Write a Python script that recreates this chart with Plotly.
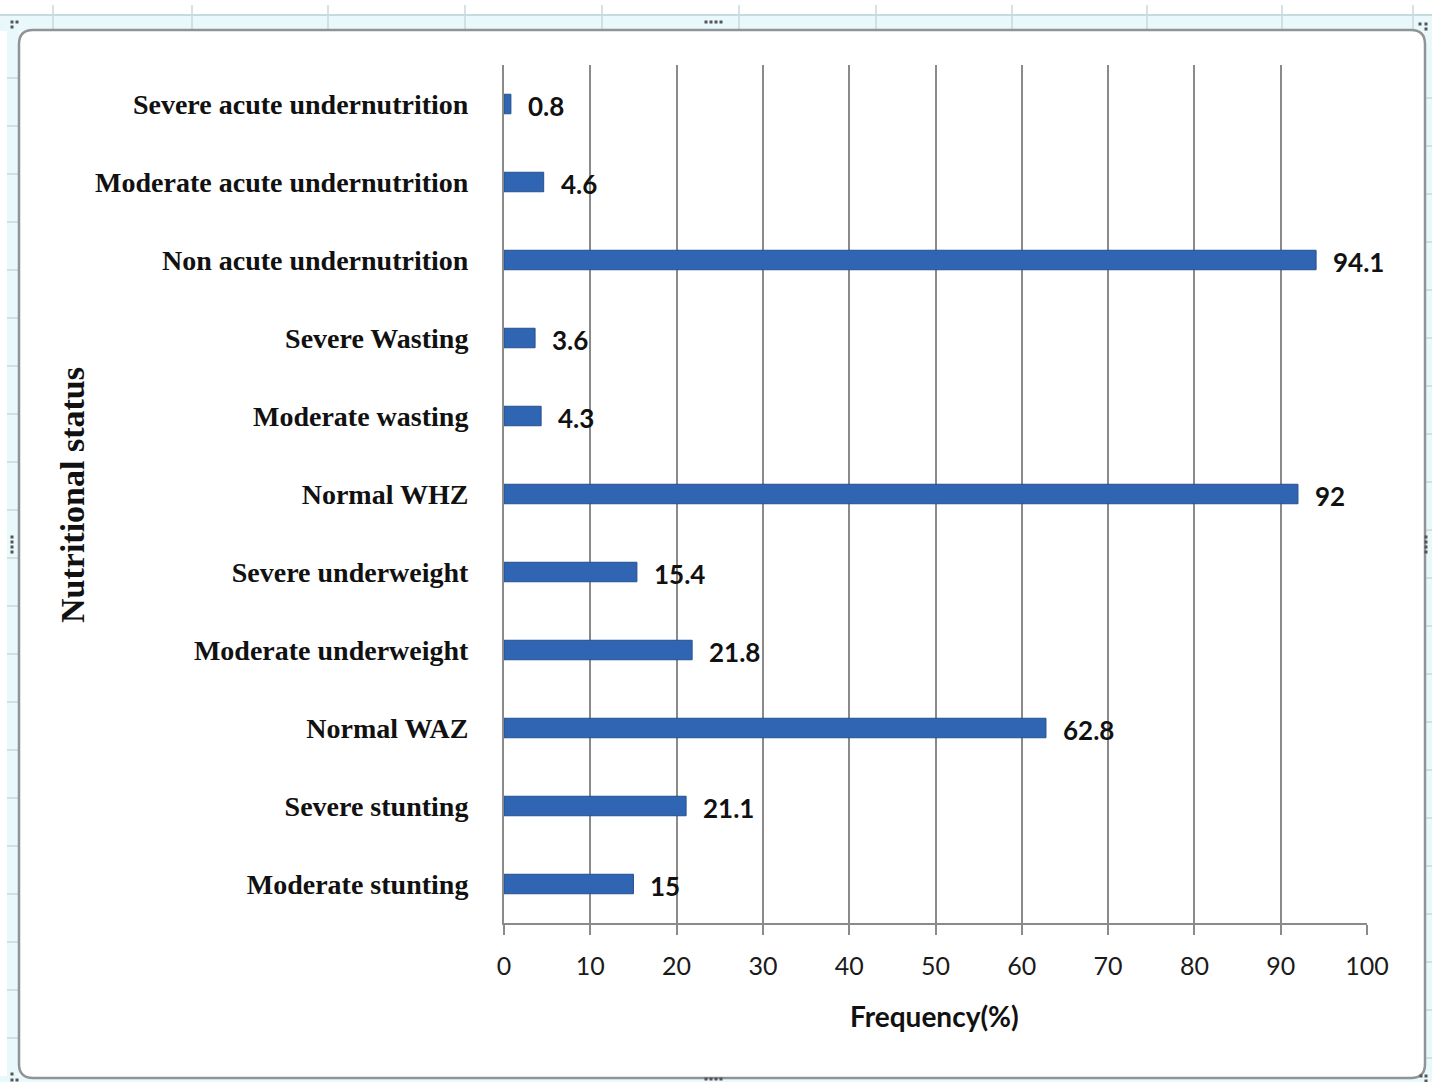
import plotly.graph_objects as go

# Nutritional status categories (top to bottom) and their frequencies in percent
categories = [
    "Severe acute undernutrition",
    "Moderate acute undernutrition",
    "Non acute undernutrition",
    "Severe Wasting",
    "Moderate wasting",
    "Normal WHZ",
    "Severe underweight",
    "Moderate underweight",
    "Normal WAZ",
    "Severe stunting",
    "Moderate stunting",
]
frequency = [0.8, 4.6, 94.1, 3.6, 4.3, 92, 15.4, 21.8, 62.8, 21.1, 15]
x_ticks = list(range(0, 101, 10))

W, H = 1432, 1082
L, R, T, B = 504, 1367, 65, 923  # plot area in pixels

def px(x):
    return (x - L) / (R - L)

def py(y):
    return (B - y) / (B - T)

BAR = "#2f65b2"
GRID = "#8a8a8a"

fig = go.Figure()
fig.add_trace(go.Bar(
    x=frequency,
    y=categories,
    orientation="h",
    width=0.25,
    marker=dict(color=BAR, line=dict(color="#24508f", width=1)),
    hoverinfo="x+y",
))

# value labels to the right of each bar
for cat, val in zip(categories, frequency):
    fig.add_annotation(
        x=val, y=cat, xref="x", yref="y",
        text=f"{val:g}", showarrow=False,
        xanchor="left", yanchor="middle", xshift=15, yshift=-2,
        font=dict(family="Lato", size=26, color="#111111", weight="bold"),
    )

shapes = []

def rect(x0, y0, x1, y1, fill, line=None, lw=0, layer="below"):
    shapes.append(dict(
        type="rect", xref="paper", yref="paper",
        x0=px(x0), x1=px(x1), y0=py(y0), y1=py(y1),
        fillcolor=fill, line=dict(color=line or fill, width=lw), layer=layer,
    ))

def seg(x0, y0, x1, y1, color, lw=1, layer="below"):
    shapes.append(dict(
        type="line", xref="paper", yref="paper",
        x0=px(x0), x1=px(x1), y0=py(y0), y1=py(y1),
        line=dict(color=color, width=lw), layer=layer,
    ))

# spreadsheet backdrop around the chart object
CYAN = "#e9f8fb"
SHEET = "#c9d9e0"
rect(0, 15, W, 31, CYAN)
rect(7, 15, 19, H, CYAN)
rect(1424, 15, W, H, CYAN)
rect(0, 1076, W, H, CYAN)
seg(0, 15, W, 15, SHEET, 2)
for cx in [53, 192, 328, 465, 602, 739, 876, 1012, 1147, 1282, 1413]:
    seg(cx, 5, cx, 31, SHEET, 1.5)
for ry in range(78, 1080, 48):
    seg(7, ry, 19, ry, SHEET, 1.5)
    seg(1424, ry + 20, W, ry + 20, SHEET, 1.5)

# chart area: white rounded rectangle with grey border
r = 14
x0, y0, x1, y1 = 19, 30, 1425, 1078
path = (
    f"M {px(x0 + r)},{py(y0)} L {px(x1 - r)},{py(y0)} "
    f"Q {px(x1)},{py(y0)} {px(x1)},{py(y0 + r)} "
    f"L {px(x1)},{py(y1 - r)} Q {px(x1)},{py(y1)} {px(x1 - r)},{py(y1)} "
    f"L {px(x0 + r)},{py(y1)} Q {px(x0)},{py(y1)} {px(x0)},{py(y1 - r)} "
    f"L {px(x0)},{py(y0 + r)} Q {px(x0)},{py(y0)} {px(x0 + r)},{py(y0)} Z"
)
shapes.append(dict(type="path", xref="paper", yref="paper", path=path,
                   fillcolor="white", line=dict(color="#8f9496", width=2.5),
                   layer="below"))

# sizing handles of the selected chart object
def dots(cx, cy, vertical):
    for i in range(4):
        dx, dy = (0, i * 5) if vertical else (i * 5, 0)
        rect(cx + dx - 1.5, cy + dy - 1.5, cx + dx + 1.5, cy + dy + 1.5,
             "#555555", layer="above")

dots(706, 22, False)
dots(12, 537, True)
dots(1426, 537, True)
dots(706, 1079, False)
for cx, cy in [(12, 22), (17, 22), (12, 27), (1420, 24), (1426, 24), (1426, 29),
               (12, 1074), (12, 1080), (17, 1080), (1421, 1076), (1426, 1076), (1426, 1081)]:
    rect(cx - 1.5, cy - 1.5, cx + 1.5, cy + 1.5, "#555555", layer="above")

annotations = list(fig.layout.annotations)
annotations.append(dict(
    text="Frequency(%)", xref="paper", yref="paper",
    x=px(934), y=py(1016), showarrow=False, xanchor="center", yanchor="middle",
    font=dict(family="Lato", size=28, color="#111111", weight="bold"),
))
annotations.append(dict(
    text="Nutritional status", xref="paper", yref="paper",
    x=px(72), y=py(495), showarrow=False, xanchor="center", yanchor="middle",
    textangle=-90,
    font=dict(family="Liberation Serif", size=34, color="#111111", weight="bold"),
))

fig.update_layout(
    width=W, height=H,
    margin=dict(l=L, r=W - R, t=T, b=H - B),
    paper_bgcolor="white",
    plot_bgcolor="rgba(0,0,0,0)",
    showlegend=False,
    bargap=0.7,
    shapes=shapes,
    annotations=annotations,
    xaxis=dict(
        range=[0, 100], tickvals=x_ticks, ticktext=[str(v) for v in x_ticks],
        showgrid=True, gridcolor=GRID, gridwidth=2,
        showline=True, linecolor=GRID, linewidth=2,
        ticks="outside", ticklen=10, tickwidth=2, tickcolor=GRID,
        ticklabelstandoff=10,
        zeroline=False,
        tickfont=dict(family="Lato", size=25, color="#1a1a1a"),
    ),
    yaxis=dict(
        autorange="reversed", showgrid=False,
        showline=True, linecolor=GRID, linewidth=2,
        ticks="", ticklabelstandoff=28,
        tickfont=dict(family="Liberation Serif", size=28, color="#111111", weight="bold"),
    ),
)

fig.write_html("out.html")
